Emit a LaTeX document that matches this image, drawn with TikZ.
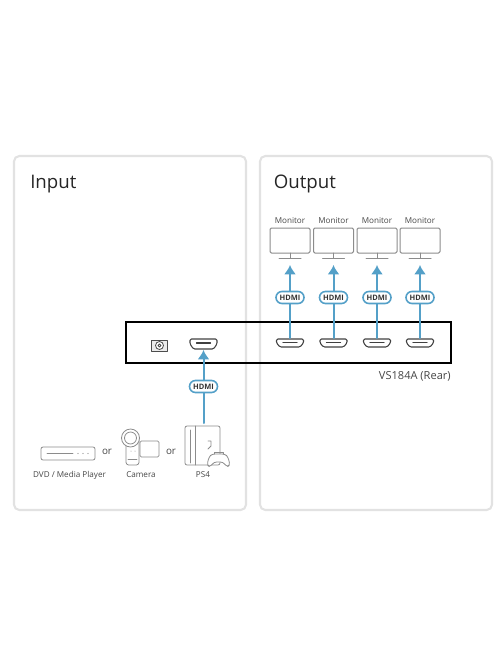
\documentclass[tikz,border=0pt]{standalone}
\usepackage{fontspec}
\setmainfont{Open Sans}
\usetikzlibrary{arrows.meta,shapes.misc}

\definecolor{panelgray}{RGB}{226,226,226}
\definecolor{hdmiblue}{RGB}{84,160,200}
\definecolor{icongray}{RGB}{140,140,140}
\definecolor{labelgray}{RGB}{70,70,70}

\tikzset{
  panel/.style={draw=panelgray,line width=1.6pt,rounded corners=4pt},
  paneltitle/.style={anchor=base west,inner sep=0pt,font=\fontsize{14}{16}\selectfont,text=black!85},
  devicelabel/.style={font=\fontsize{6.1}{7}\selectfont,text=labelgray,inner sep=0pt},
  orlabel/.style={font=\fontsize{7.4}{8}\selectfont,text=labelgray,inner sep=0pt},
  hdmipill/.style={rounded rectangle,draw=hdmiblue,line width=1.2pt,fill=white,
    minimum width=21pt,minimum height=9pt,inner sep=0pt,
    font=\fontsize{5.6}{6}\selectfont\bfseries,text=black!80},
  hdmilink/.style={draw=hdmiblue,line width=1.5pt,-{Latex[length=7pt,width=9pt]}},
  port/.style={draw=black!75,line width=0.8pt,line join=round},
  icon/.style={draw=icongray,line width=0.6pt,line join=round,line cap=round}
}

\begin{document}
\begin{tikzpicture}[x=0.75pt,y=-0.75pt,line cap=round,line join=round]
        \useasboundingbox (0,0) rectangle (496,664);
        \def\yPort{338}
        \def\yPill{297.5}

        % Panels
        \draw[panel] (14,156) rectangle (246,510);
        \draw[panel] (260,156) rectangle (492,510);
        \node[paneltitle] (inputtitle) at (30,188) {Input};
        \node[paneltitle] (outputtitle) at (273.5,188) {Output};

        % Rear of the unit
        \draw[black,line width=1.5pt,line cap=butt,line join=miter] (126,322) rectangle (451,363);
        \node[devicelabel,anchor=base east,font=\fontsize{8.3}{9}\selectfont] (rearlabel) at (451,379) {VS184A (Rear)};

        % Power socket
        \draw[icon,draw=black!70,fill=black!8] (151.5,340) rectangle (167,351.5);
        \draw[icon,draw=black!70,fill=white] (159.5,345.5) circle (4);
        \draw[icon,draw=black!70] (159.5,345.5) circle (1.5);

        % Output ports, cables and monitors
        \foreach \n/\x in {1/290,2/333.5,3/377,4/420} {
            \coordinate (portout\n) at (\x,\yPort);
            \coordinate (tip\n) at (\x,265);
            \draw[port,rounded corners=1pt] (\x-13.5,\yPort+1) -- (\x+13.5,\yPort+1)
                -- (\x+13.5,\yPort+5) -- (\x+10,\yPort+9) -- (\x-10,\yPort+9)
                -- (\x-13.5,\yPort+5) -- cycle;
            \draw[port] (\x-7,\yPort+4.5) -- (\x+7,\yPort+4.5);
            \draw[hdmilink] (portout\n) -- (tip\n);
            \node[hdmipill] (pillout\n) at (\x,\yPill) {HDMI};
            \draw[icon,rounded corners=1pt,line width=0.75pt] (\x-20,228) rectangle (\x+20,253);
            \draw[icon,line width=0.75pt] (\x,253) -- (\x,258);
            \draw[icon,line width=0.75pt] (\x-11,258) -- (\x+11,258);
            \node[devicelabel] (monitor\n) at (\x,221) {Monitor};
        }

        % Input port and cable
        \coordinate (portin) at (203.5,350);
        \coordinate (sourcetop) at (203.5,423);
        \draw[port,rounded corners=1pt] (190,339) -- (217,339) -- (217,344)
            -- (213.5,349) -- (193.5,349) -- (190,344) -- cycle;
        \draw[port] (196.5,343) -- (210.5,343);
        \draw[hdmilink] (sourcetop) -- (portin);
        \node[hdmipill] (pillin) at (203.5,386.5) {HDMI};

        % DVD player
        \draw[icon,rounded corners=1.5pt] (41,447) rectangle (95,460);
        \draw[icon] (47,453.5) -- (73,453.5);
        \foreach \x in {78,83,88} {
            \fill[icongray] (\x,453.5) circle (0.6);
        }
        \node[devicelabel] (dvdlabel) at (69.5,475) {DVD / Media Player};
        \node[orlabel] (orleft) at (107,451.5) {or};

        % Camera
        \draw[icon,rounded corners=2pt] (126,438) -- (126,465) -- (139,465) -- (139,438);
        \draw[icon,fill=white] (130.5,438) circle (9);
        \draw[icon,fill=white] (130.5,438) circle (6);
        \draw[icon,rounded corners=1pt] (140,441) rectangle (159,457);
        \draw[icon] (128,459) -- (137,459);
        \foreach \x in {131,135} {
            \fill[icongray] (\x,451) circle (0.5);
        }
        \node[devicelabel] (cameralabel) at (141,475) {Camera};
        \node[orlabel] (orright) at (171,451.5) {or};

        % PS4 box with controller
        \draw[icon,rounded corners=1.5pt] (185,426) rectangle (220,465);
        \draw[icon] (195,426) -- (195,465);
        \draw[icon] (190,430) -- (190,463);
        \draw[icon] (208,441) -- (211,441) -- (211,446) -- (208,449);
        \draw[icon,fill=white,rounded corners=2pt] (210,467) -- (207,465) -- (209,457)
            -- (212,454) -- (225,454) -- (228,457) -- (230,465) -- (227,467)
            -- (223,462) -- (214,462) -- cycle;
        \draw[icon] (214,454) -- (214,452) -- (223,452) -- (223,454);
        \node[devicelabel] (ps4label) at (203,475) {PS4};
\end{tikzpicture}
\end{document}
